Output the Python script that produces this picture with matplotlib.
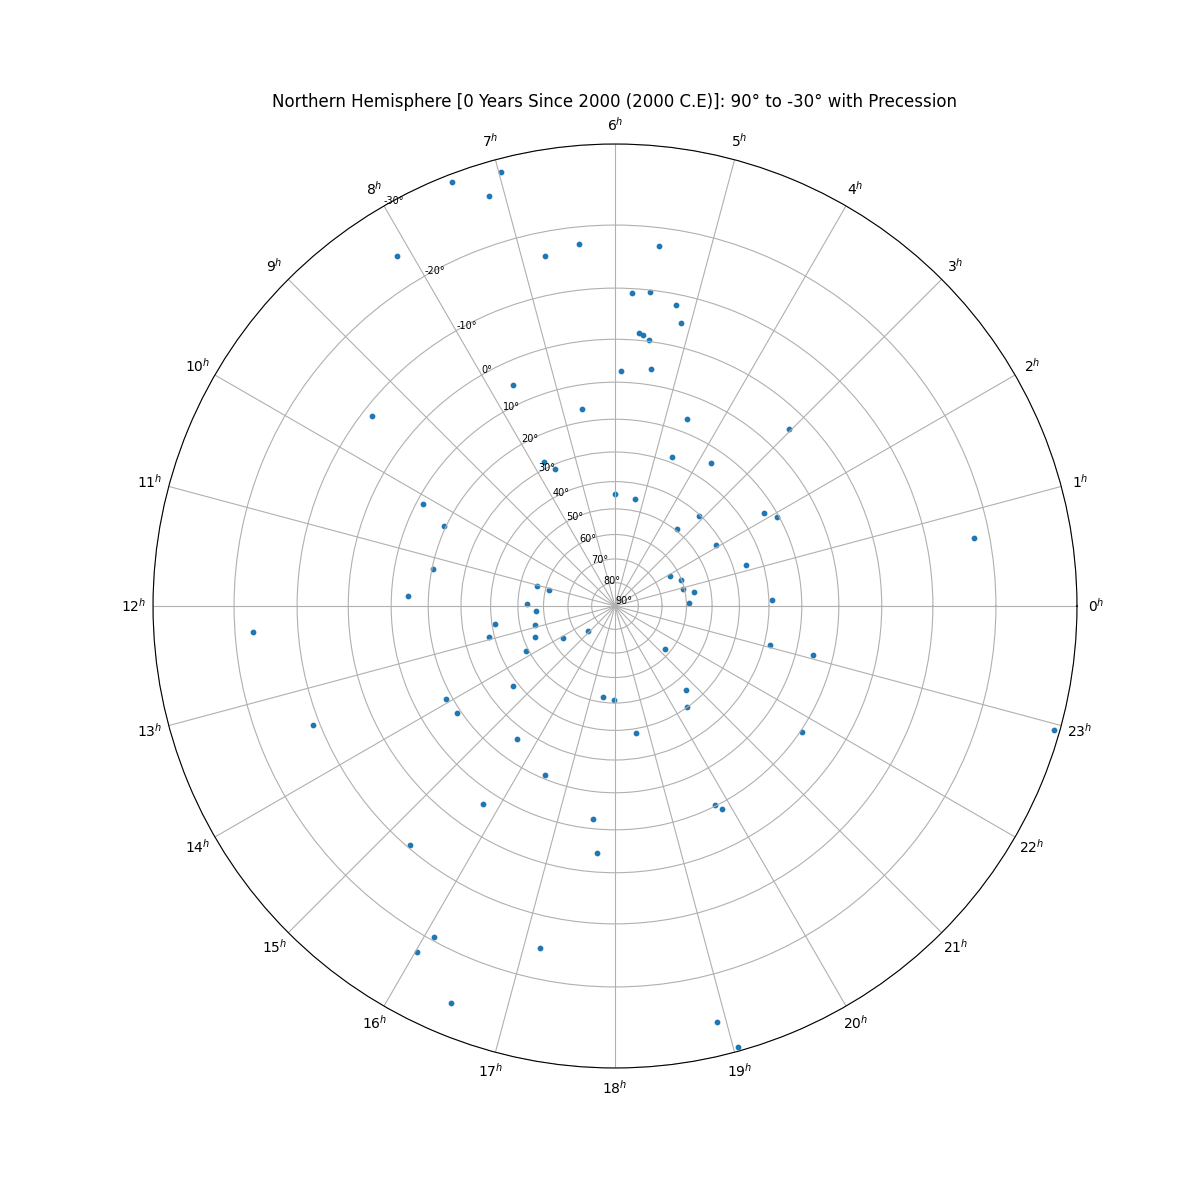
import numpy as np
import matplotlib

matplotlib.use("Agg")
import matplotlib.pyplot as plt

# star positions: right ascension (hours), declination (degrees)
ra_hours = [6.98, 7.40, 7.14, 8.13, 6.75, 6.38, 5.54, 5.79, 5.58, 5.23, 5.12, 5.67, 5.60, 5.52,
            5.91, 5.42, 7.65, 9.46, 6.63, 4.59, 3.03, 7.75, 7.57, 4.60, 3.73, 5.99, 5.28, 10.14,
            10.33, 2.12, 1.91, 3.12, 3.39, 2.06, 0.72, 1.15, 11.24, 11.82, 11.05, 11.10, 1.88, 1.41,
            0.92, 0.65, 0.14, 0.14, 11.91, 12.26, 12.89, 12.58, 12.92, 13.43, 14.13, 14.90, 12.27,
            13.80, 23.05, 23.07, 21.30, 20.68, 20.37, 14.55, 13.93, 14.27, 17.50, 17.96, 18.62, 15.58,
            21.73, 13.43, 16.51, 22.95, 15.75, 19.77, 19.85, 17.60, 17.73, 15.29, 17.18, 16.09, 16.01,
            16.50, 18.92, 19.04]
dec_deg = [-28.5, -29.1, -26.2, -24.2, -16.4, -17.5, -17.4, -9.3, -9.6, -8.0, -5.0, -1.5, -1.2, -0.2,
           7.3, 6.2, 5.3, -8.3, 16.4, 16.2, 4.1, 28.0, 31.6, 28.3, 24.3, 44.6, 45.7, 11.7,
           19.5, 23.2, 20.6, 40.5, 49.3, 42.2, -17.7, 35.6, 20.4, 14.4, 56.5, 61.6, 63.5, 60.1,
           60.5, 56.4, 58.8, 28.9, 53.6, 57.1, 55.8, 41.2, 38.2, 54.4, 64.3, 74.3, -17.3,
           49.0, 28.0, 15.1, 62.1, 45.0, 40.0, 38.2, 18.3, 19.0, 51.9, 51.2, 38.4, 26.5,
           9.5, -11.1, 21.1, -29.4, 6.4, 10.3, 8.5, 12.4, 4.2, -9.4, -15.4, -19.5, -22.4,
           -26.3, -26.2, -29.6]

dec_ticks = [90, 80, 70, 60, 50, 40, 30, 20, 10, 0, -10, -20, -30]
hour_ticks = list(range(24))

years_since = 0
year_ce = 2000
dec_min = -30


def dec_to_r(dec):
    # stereographic distance from the north celestial pole
    return np.tan(np.radians(90 - np.asarray(dec, dtype=float)) / 2)


fig = plt.figure(figsize=(12, 12), dpi=100)
ax = fig.add_subplot(111, projection="polar")

ax.scatter(np.radians(np.array(ra_hours) * 15), dec_to_r(dec_deg), s=10)

ax.set_ylim(0, dec_to_r(dec_min))
ax.set_yticks(dec_to_r(dec_ticks))
ax.set_yticklabels([f"{d}°" for d in dec_ticks], fontsize=7)
ax.set_rlabel_position(120)

ax.set_xticks(np.radians(np.array(hour_ticks) * 15))
ax.set_xticklabels([f"{h}$^h$" for h in hour_ticks])

ax.set_title(
    f"Northern Hemisphere [{years_since} Years Since 2000 ({year_ce} C.E)]: 90° to {dec_min}° with Precession"
)

fig.savefig("out.png")
